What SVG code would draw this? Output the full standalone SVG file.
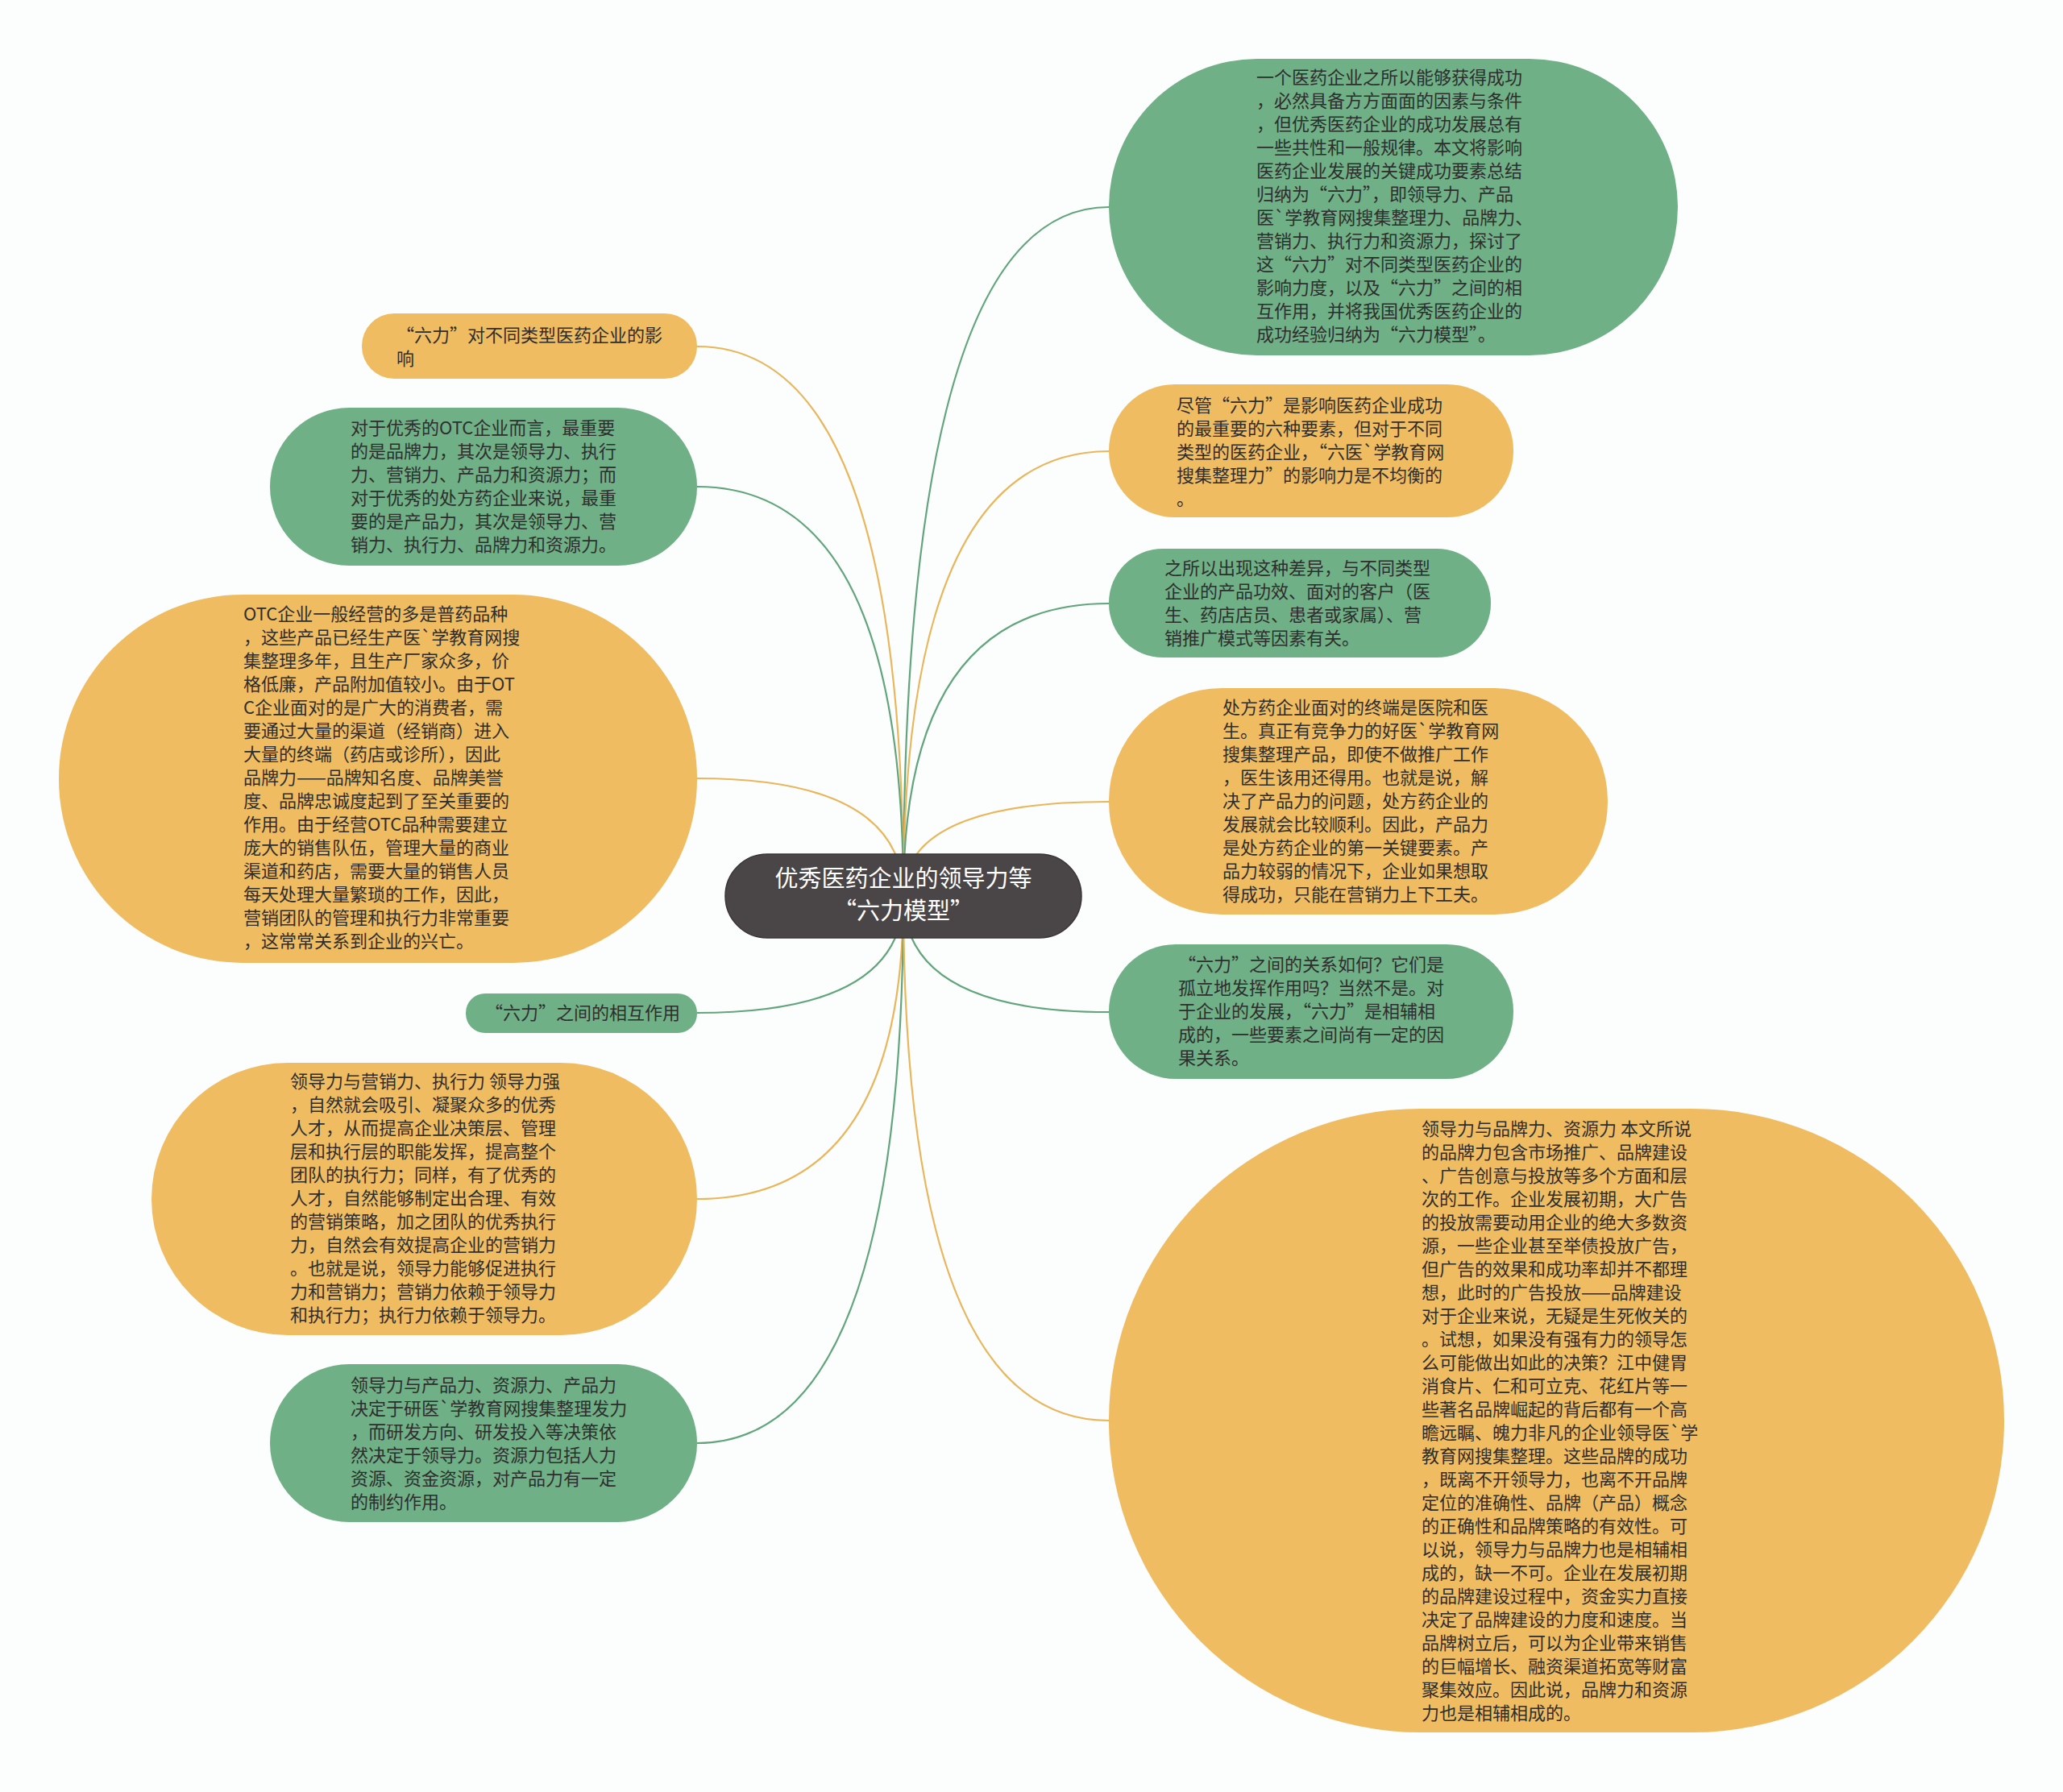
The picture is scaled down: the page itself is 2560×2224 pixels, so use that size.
<svg xmlns="http://www.w3.org/2000/svg" width="2560" height="2224" viewBox="0 0 2560 2224">
<style>
.g{fill:#70b086}
.o{fill:#f0bc62}
.t{font-family:"Noto Sans CJK SC","Microsoft YaHei",sans-serif;font-size:22px;fill:#2e2e2e}
.ct{font-family:"Noto Sans CJK SC","Microsoft YaHei",sans-serif;font-size:29px;fill:#ffffff;text-anchor:middle}
.lg{fill:none;stroke:#62a57c;stroke-width:2.2}
.lo{fill:none;stroke:#e9b65c;stroke-width:2.2}
</style>
<rect x="0" y="0" width="2560" height="2224" fill="#fbfefd"/>
<g id="connectors">
<path class="lg" d="M1121 1112 Q1121 257 1376 257"/>
<path class="lo" d="M1121 1112 Q1121 430 865 430"/>
<path class="lg" d="M1121 1112 Q1121 604 865 604"/>
<path class="lo" d="M1121 1112 Q1121 560 1376 560"/>
<path class="lg" d="M1121 1112 Q1121 749 1376 749"/>
<path class="lo" d="M1121 1112 Q1121 966 865 966"/>
<path class="lo" d="M1121 1112 Q1121 995 1376 995"/>
<path class="lg" d="M1121 1112 Q1121 1257 865 1257"/>
<path class="lg" d="M1121 1112 Q1121 1256 1376 1256"/>
<path class="lo" d="M1121 1112 Q1121 1488 865 1488"/>
<path class="lg" d="M1121 1112 Q1121 1791 865 1791"/>
<path class="lo" d="M1121 1112 Q1121 1763 1376 1763"/>
</g>
<g id="root">
<rect x="900" y="1060" width="442" height="104" rx="52" fill="#4a4546" stroke="#3a3536" stroke-width="1.5"/>
<text class="ct" x="1121" y="1101">优秀医药企业的领导力等</text>
<text class="ct" x="1121" y="1141">“六力模型”</text>
</g>
<g id="nodeA">
<rect class="g" x="1376" y="73" width="706" height="368" rx="184"/>
<text class="t" x="1559">
<tspan x="1559" y="104">一个医药企业之所以能够获得成功</tspan>
<tspan x="1559" y="133">，必然具备方方面面的因素与条件</tspan>
<tspan x="1559" y="162">，但优秀医药企业的成功发展总有</tspan>
<tspan x="1559" y="191">一些共性和一般规律。本文将影响</tspan>
<tspan x="1559" y="220">医药企业发展的关键成功要素总结</tspan>
<tspan x="1559" y="249">归纳为“六力”，即领导力、产品</tspan>
<tspan x="1559" y="278">医`学教育网搜集整理力、品牌力、</tspan>
<tspan x="1559" y="307">营销力、执行力和资源力，探讨了</tspan>
<tspan x="1559" y="336">这“六力”对不同类型医药企业的</tspan>
<tspan x="1559" y="365">影响力度，以及“六力”之间的相</tspan>
<tspan x="1559" y="394">互作用，并将我国优秀医药企业的</tspan>
<tspan x="1559" y="423">成功经验归纳为“六力模型”。</tspan>
</text>
</g>
<g id="nodeB">
<rect class="o" x="449" y="389" width="416" height="81" rx="40"/>
<text class="t">
<tspan x="492" y="424">“六力”对不同类型医药企业的影</tspan>
<tspan x="492" y="453">响</tspan>
</text>
</g>
<g id="nodeC">
<rect class="g" x="335" y="506" width="530" height="196" rx="98"/>
<text class="t">
<tspan x="435" y="539">对于优秀的OTC企业而言，最重要</tspan>
<tspan x="435" y="568">的是品牌力，其次是领导力、执行</tspan>
<tspan x="435" y="597">力、营销力、产品力和资源力；而</tspan>
<tspan x="435" y="626">对于优秀的处方药企业来说，最重</tspan>
<tspan x="435" y="655">要的是产品力，其次是领导力、营</tspan>
<tspan x="435" y="684">销力、执行力、品牌力和资源力。</tspan>
</text>
</g>
<g id="nodeD">
<rect class="o" x="1376" y="477" width="502" height="165" rx="82"/>
<text class="t">
<tspan x="1460" y="511">尽管“六力”是影响医药企业成功</tspan>
<tspan x="1460" y="540">的最重要的六种要素，但对于不同</tspan>
<tspan x="1460" y="569">类型的医药企业，“六医`学教育网</tspan>
<tspan x="1460" y="598">搜集整理力”的影响力是不均衡的</tspan>
<tspan x="1460" y="627">。</tspan>
</text>
</g>
<g id="nodeE">
<rect class="g" x="1376" y="681" width="474" height="135" rx="67"/>
<text class="t">
<tspan x="1445" y="713">之所以出现这种差异，与不同类型</tspan>
<tspan x="1445" y="742">企业的产品功效、面对的客户（医</tspan>
<tspan x="1445" y="771">生、药店店员、患者或家属）、营</tspan>
<tspan x="1445" y="800">销推广模式等因素有关。</tspan>
</text>
</g>
<g id="nodeF">
<rect class="o" x="73" y="738" width="792" height="457" rx="228"/>
<text class="t">
<tspan x="302" y="770">OTC企业一般经营的多是普药品种</tspan>
<tspan x="302" y="799">，这些产品已经生产医`学教育网搜</tspan>
<tspan x="302" y="828">集整理多年，且生产厂家众多，价</tspan>
<tspan x="302" y="857">格低廉，产品附加值较小。由于OT</tspan>
<tspan x="302" y="886">C企业面对的是广大的消费者，需</tspan>
<tspan x="302" y="915">要通过大量的渠道（经销商）进入</tspan>
<tspan x="302" y="944">大量的终端（药店或诊所），因此</tspan>
<tspan x="302" y="973">品牌力——品牌知名度、品牌美誉</tspan>
<tspan x="302" y="1002">度、品牌忠诚度起到了至关重要的</tspan>
<tspan x="302" y="1031">作用。由于经营OTC品种需要建立</tspan>
<tspan x="302" y="1060">庞大的销售队伍，管理大量的商业</tspan>
<tspan x="302" y="1089">渠道和药店，需要大量的销售人员</tspan>
<tspan x="302" y="1118">每天处理大量繁琐的工作，因此，</tspan>
<tspan x="302" y="1147">营销团队的管理和执行力非常重要</tspan>
<tspan x="302" y="1176">，这常常关系到企业的兴亡。</tspan>
</text>
</g>
<g id="nodeG">
<rect class="o" x="1376" y="854" width="619" height="281" rx="140"/>
<text class="t">
<tspan x="1517" y="886">处方药企业面对的终端是医院和医</tspan>
<tspan x="1517" y="915">生。真正有竞争力的好医`学教育网</tspan>
<tspan x="1517" y="944">搜集整理产品，即使不做推广工作</tspan>
<tspan x="1517" y="973">，医生该用还得用。也就是说，解</tspan>
<tspan x="1517" y="1002">决了产品力的问题，处方药企业的</tspan>
<tspan x="1517" y="1031">发展就会比较顺利。因此，产品力</tspan>
<tspan x="1517" y="1060">是处方药企业的第一关键要素。产</tspan>
<tspan x="1517" y="1089">品力较弱的情况下，企业如果想取</tspan>
<tspan x="1517" y="1118">得成功，只能在营销力上下工夫。</tspan>
</text>
</g>
<g id="nodeH">
<rect class="g" x="578" y="1233" width="287" height="49" rx="24"/>
<text class="t" x="602" y="1265">“六力”之间的相互作用</text>
</g>
<g id="nodeI">
<rect class="g" x="1376" y="1172" width="502" height="167" rx="83"/>
<text class="t">
<tspan x="1462" y="1205">“六力”之间的关系如何？它们是</tspan>
<tspan x="1462" y="1234">孤立地发挥作用吗？当然不是。对</tspan>
<tspan x="1462" y="1263">于企业的发展，“六力”是相辅相</tspan>
<tspan x="1462" y="1292">成的，一些要素之间尚有一定的因</tspan>
<tspan x="1462" y="1321">果关系。</tspan>
</text>
</g>
<g id="nodeJ">
<rect class="o" x="188" y="1319" width="677" height="338" rx="169"/>
<text class="t">
<tspan x="360" y="1350">领导力与营销力、执行力 领导力强</tspan>
<tspan x="360" y="1379">，自然就会吸引、凝聚众多的优秀</tspan>
<tspan x="360" y="1408">人才，从而提高企业决策层、管理</tspan>
<tspan x="360" y="1437">层和执行层的职能发挥，提高整个</tspan>
<tspan x="360" y="1466">团队的执行力；同样，有了优秀的</tspan>
<tspan x="360" y="1495">人才，自然能够制定出合理、有效</tspan>
<tspan x="360" y="1524">的营销策略，加之团队的优秀执行</tspan>
<tspan x="360" y="1553">力，自然会有效提高企业的营销力</tspan>
<tspan x="360" y="1582">。也就是说，领导力能够促进执行</tspan>
<tspan x="360" y="1611">力和营销力；营销力依赖于领导力</tspan>
<tspan x="360" y="1640">和执行力；执行力依赖于领导力。</tspan>
</text>
</g>
<g id="nodeK">
<rect class="g" x="335" y="1693" width="530" height="196" rx="98"/>
<text class="t">
<tspan x="435" y="1727">领导力与产品力、资源力、产品力</tspan>
<tspan x="435" y="1756">决定于研医`学教育网搜集整理发力</tspan>
<tspan x="435" y="1785">，而研发方向、研发投入等决策依</tspan>
<tspan x="435" y="1814">然决定于领导力。资源力包括人力</tspan>
<tspan x="435" y="1843">资源、资金资源，对产品力有一定</tspan>
<tspan x="435" y="1872">的制约作用。</tspan>
</text>
</g>
<g id="nodeL">
<rect class="o" x="1376" y="1376" width="1111" height="774" rx="387"/>
<text class="t">
<tspan x="1764" y="1409">领导力与品牌力、资源力 本文所说</tspan>
<tspan x="1764" y="1438">的品牌力包含市场推广、品牌建设</tspan>
<tspan x="1764" y="1467">、广告创意与投放等多个方面和层</tspan>
<tspan x="1764" y="1496">次的工作。企业发展初期，大广告</tspan>
<tspan x="1764" y="1525">的投放需要动用企业的绝大多数资</tspan>
<tspan x="1764" y="1554">源，一些企业甚至举债投放广告，</tspan>
<tspan x="1764" y="1583">但广告的效果和成功率却并不都理</tspan>
<tspan x="1764" y="1612">想，此时的广告投放——品牌建设</tspan>
<tspan x="1764" y="1641">对于企业来说，无疑是生死攸关的</tspan>
<tspan x="1764" y="1670">。试想，如果没有强有力的领导怎</tspan>
<tspan x="1764" y="1699">么可能做出如此的决策？江中健胃</tspan>
<tspan x="1764" y="1728">消食片、仁和可立克、花红片等一</tspan>
<tspan x="1764" y="1757">些著名品牌崛起的背后都有一个高</tspan>
<tspan x="1764" y="1786">瞻远瞩、魄力非凡的企业领导医`学</tspan>
<tspan x="1764" y="1815">教育网搜集整理。这些品牌的成功</tspan>
<tspan x="1764" y="1844">，既离不开领导力，也离不开品牌</tspan>
<tspan x="1764" y="1873">定位的准确性、品牌（产品）概念</tspan>
<tspan x="1764" y="1902">的正确性和品牌策略的有效性。可</tspan>
<tspan x="1764" y="1931">以说，领导力与品牌力也是相辅相</tspan>
<tspan x="1764" y="1960">成的，缺一不可。企业在发展初期</tspan>
<tspan x="1764" y="1989">的品牌建设过程中，资金实力直接</tspan>
<tspan x="1764" y="2018">决定了品牌建设的力度和速度。当</tspan>
<tspan x="1764" y="2047">品牌树立后，可以为企业带来销售</tspan>
<tspan x="1764" y="2076">的巨幅增长、融资渠道拓宽等财富</tspan>
<tspan x="1764" y="2105">聚集效应。因此说，品牌力和资源</tspan>
<tspan x="1764" y="2134">力也是相辅相成的。</tspan>
</text>
</g>
</svg>
